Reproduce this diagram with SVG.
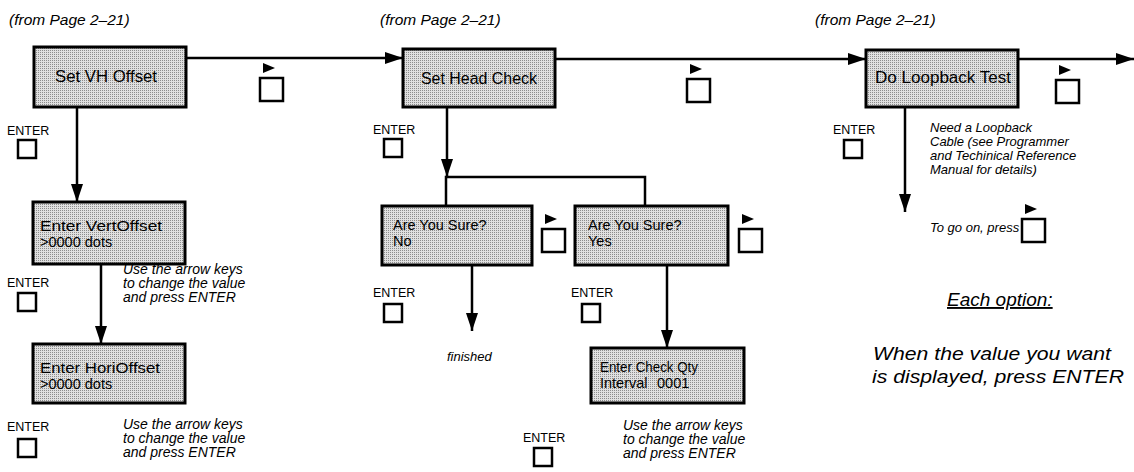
<svg xmlns="http://www.w3.org/2000/svg" xmlns:xlink="http://www.w3.org/1999/xlink" width="1134" height="472" viewBox="0 0 1134 472">
<style>
.box{fill:url(#stip);stroke:#000;stroke-width:3}
.sq{fill:#fff;stroke:#000;stroke-width:2.5}
.tri{fill:#000}
.t{font-family:"Liberation Sans",Arial,Helvetica,sans-serif;fill:#000}
.lbl{font-size:12.5px}
.hd{font-size:15.5px;font-style:italic}
.big{font-size:19px;font-style:italic}
.bt{font-size:16px}
.bt2{font-size:14.5px}
.note{font-size:14px;font-style:italic}
.note2{font-size:13px;font-style:italic}
.conn{fill:none;stroke:#000;stroke-width:2.5}
</style>
<defs>
<pattern id="stip" width="2" height="2" patternUnits="userSpaceOnUse">
<rect width="2" height="2" fill="#e0e0e0"/>
<rect width="1" height="1" fill="#8c8c8c"/>
</pattern>
<marker id="arr" markerUnits="userSpaceOnUse" markerWidth="20" markerHeight="14" refX="18" refY="6" orient="auto">
<path d="M0,0 L18,6 L0,12 z" fill="#000"/>
</marker>
<g id="key">
<path class="tri" d="M3,0 L15,5 L3,10 z"/>
<rect class="sq" x="0" y="15" width="23" height="23"/>
</g>
</defs>

<g id="headings">
<text class="t hd" x="9" y="25">(from Page 2–21)</text>
<text class="t hd" x="380" y="25">(from Page 2–21)</text>
<text class="t hd" x="815" y="25">(from Page 2–21)</text>
</g>

<g id="connectors">
<line class="conn" x1="186" y1="58" x2="403" y2="58" marker-end="url(#arr)"/>
<line class="conn" x1="555" y1="59" x2="866" y2="59" marker-end="url(#arr)"/>
<line class="conn" x1="1018" y1="59" x2="1134" y2="59" marker-end="url(#arr)"/>
<line class="conn" x1="77" y1="107" x2="77" y2="202" marker-end="url(#arr)"/>
<line class="conn" x1="101" y1="264" x2="101" y2="344" marker-end="url(#arr)"/>
<line class="conn" x1="447" y1="107" x2="447" y2="177" marker-end="url(#arr)"/>
<path class="conn" d="M446,206 V177 H645 V206"/>
<line class="conn" x1="472" y1="265" x2="472" y2="331" marker-end="url(#arr)"/>
<line class="conn" x1="667" y1="265" x2="667" y2="348" marker-end="url(#arr)"/>
<line class="conn" x1="905" y1="107" x2="905" y2="212" marker-end="url(#arr)"/>
</g>

<g id="node-set-vh-offset">
<rect class="box" x="34" y="47" width="152" height="60"/>
<text class="t bt" x="106" y="82" text-anchor="middle" textLength="102" lengthAdjust="spacingAndGlyphs">Set VH Offset</text>
</g>
<g id="node-set-head-check">
<rect class="box" x="403" y="49" width="152" height="58"/>
<text class="t bt" x="479" y="84" text-anchor="middle" textLength="116" lengthAdjust="spacingAndGlyphs">Set Head Check</text>
</g>
<g id="node-do-loopback-test">
<rect class="box" x="866" y="50" width="152" height="57"/>
<text class="t bt" x="943" y="83" text-anchor="middle" textLength="136" lengthAdjust="spacingAndGlyphs">Do Loopback Test</text>
</g>
<g id="node-enter-vertoffset">
<rect class="box" x="33" y="202" width="152" height="62"/>
<text class="t bt2" x="40" y="231" textLength="122" lengthAdjust="spacingAndGlyphs">Enter VertOffset</text>
<text class="t bt2" x="40" y="247">&gt;0000 dots</text>
</g>
<g id="node-enter-horioffset">
<rect class="box" x="33" y="344" width="152" height="59"/>
<text class="t bt2" x="40" y="373" textLength="120" lengthAdjust="spacingAndGlyphs">Enter HoriOffset</text>
<text class="t bt2" x="40" y="389">&gt;0000 dots</text>
</g>
<g id="node-sure-no">
<rect class="box" x="382" y="206" width="150" height="59"/>
<text class="t bt2" x="393" y="230">Are You Sure?</text>
<text class="t bt2" x="393" y="246">No</text>
</g>
<g id="node-sure-yes">
<rect class="box" x="575" y="206" width="153" height="59"/>
<text class="t bt2" x="588" y="230">Are You Sure?</text>
<text class="t bt2" x="588" y="246">Yes</text>
</g>
<g id="node-enter-check-qty">
<rect class="box" x="591" y="348" width="153" height="55"/>
<text class="t bt2" x="600" y="372" textLength="98" lengthAdjust="spacingAndGlyphs">Enter Check Qty</text>
<text class="t bt2" x="600" y="388">Interval<tspan x="657">0001</tspan></text>
</g>

<g id="keys">
<use xlink:href="#key" x="260" y="63"/>
<use xlink:href="#key" x="687" y="64"/>
<use xlink:href="#key" x="1056" y="65"/>
<use xlink:href="#key" x="542" y="214"/>
<use xlink:href="#key" x="739" y="214"/>
<use xlink:href="#key" x="1022" y="204"/>
</g>

<g id="enter-keys">
<text class="t lbl" x="7" y="135">ENTER</text>
<rect class="sq" x="18" y="140" width="18" height="18"/>
<text class="t lbl" x="7" y="287">ENTER</text>
<rect class="sq" x="18" y="293" width="18" height="18"/>
<text class="t lbl" x="7" y="431">ENTER</text>
<rect class="sq" x="18" y="439" width="18" height="18"/>
<text class="t lbl" x="373" y="134">ENTER</text>
<rect class="sq" x="384" y="139" width="18" height="18"/>
<text class="t lbl" x="373" y="297">ENTER</text>
<rect class="sq" x="384" y="304" width="18" height="18"/>
<text class="t lbl" x="571" y="297">ENTER</text>
<rect class="sq" x="582" y="304" width="18" height="18"/>
<text class="t lbl" x="523" y="442">ENTER</text>
<rect class="sq" x="534" y="448" width="18" height="18"/>
<text class="t lbl" x="833" y="134">ENTER</text>
<rect class="sq" x="844" y="140" width="18" height="18"/>
</g>

<g id="notes">
<text class="t note" x="123" y="274">Use the arrow keys</text>
<text class="t note" x="123" y="288">to change the value</text>
<text class="t note" x="123" y="302">and press ENTER</text>
<text class="t note" x="123" y="429">Use the arrow keys</text>
<text class="t note" x="123" y="443">to change the value</text>
<text class="t note" x="123" y="457">and press ENTER</text>
<text class="t note" x="623" y="430">Use the arrow keys</text>
<text class="t note" x="623" y="444">to change the value</text>
<text class="t note" x="623" y="458">and press ENTER</text>
<text class="t note2" x="447" y="361">finished</text>
<text class="t note2" x="930" y="132">Need a Loopback</text>
<text class="t note2" x="930" y="146">Cable (see Programmer</text>
<text class="t note2" x="930" y="160">and Techinical Reference</text>
<text class="t note2" x="930" y="174">Manual for details)</text>
<text class="t note2" x="930" y="232">To go on, press</text>
<text class="t big" x="947" y="306" font-size="16.5" text-decoration="underline">Each option:</text>
<text class="t big" x="873" y="360" textLength="238" lengthAdjust="spacingAndGlyphs">When the value you want</text>
<text class="t big" x="872" y="383" textLength="252" lengthAdjust="spacingAndGlyphs">is displayed, press ENTER</text>
</g>
</svg>
